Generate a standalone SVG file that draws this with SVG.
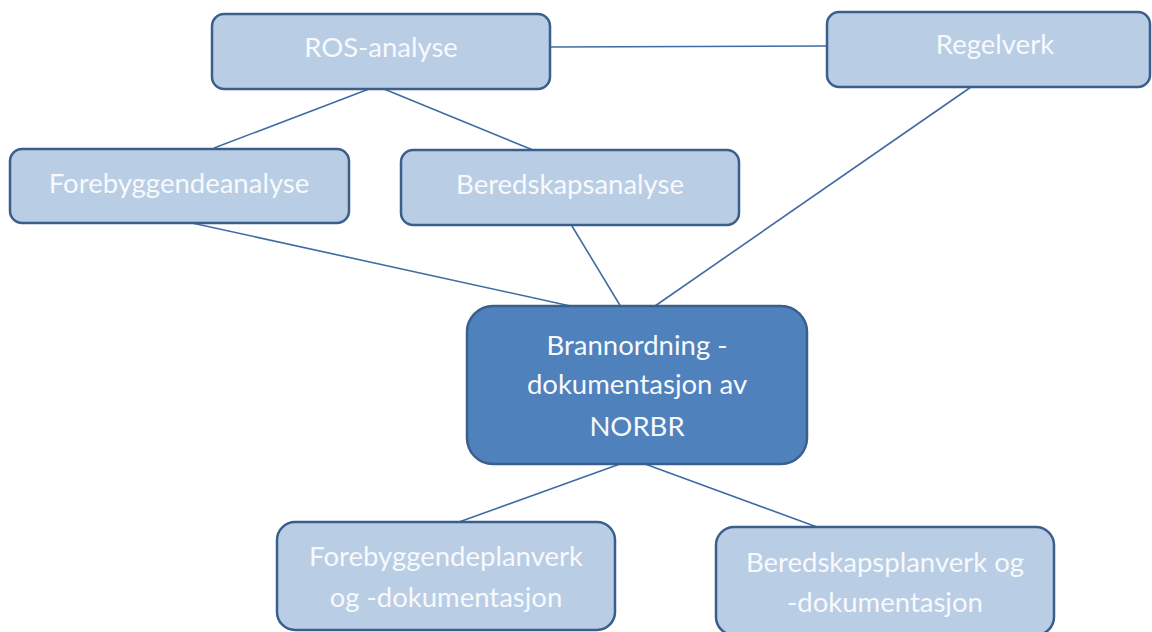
<svg xmlns="http://www.w3.org/2000/svg" width="1152" height="632" viewBox="0 0 1152 632">
<style>
.box{fill:#b9cde5;stroke:#3b5f8d;stroke-width:2.5}
.main{fill:#4f81bd;stroke:#3b5f8d;stroke-width:2.5}
.t{font-family:Lato,"Open Sans","Liberation Sans",sans-serif;font-size:27.5px;fill:#f7f9fc;text-anchor:middle}
.c line{stroke:#3f6ca3;stroke-width:1.6}
</style>
<rect width="1152" height="632" fill="#ffffff"/>
<g class="c" id="connectors">
<line x1="550" y1="47" x2="827" y2="46"/>
<line x1="369" y1="89" x2="214" y2="148"/>
<line x1="384" y1="89" x2="533" y2="150"/>
<line x1="971" y1="87" x2="655" y2="306"/>
<line x1="192" y1="223" x2="575" y2="307"/>
<line x1="572" y1="226" x2="621" y2="307"/>
<line x1="620" y1="464" x2="459" y2="522"/>
<line x1="645" y1="464" x2="817" y2="527"/>
</g>
<g id="ros">
<rect class="box" x="212" y="14" width="338" height="75" rx="12"/>
<text class="t" x="381" y="57">ROS-analyse</text>
</g>
<g id="regelverk">
<rect class="box" x="827" y="12" width="323" height="75" rx="12"/>
<text class="t" x="995" y="54">Regelverk</text>
</g>
<g id="forebyggendeanalyse">
<rect class="box" x="10" y="149" width="339" height="74" rx="12"/>
<text class="t" x="179" y="193">Forebyggendeanalyse</text>
</g>
<g id="beredskapsanalyse">
<rect class="box" x="401" y="150" width="338" height="75" rx="12"/>
<text class="t" x="570" y="194">Beredskapsanalyse</text>
</g>
<g id="brannordning">
<rect class="main" x="467" y="306" width="340" height="158" rx="26"/>
<text class="t" x="637" y="355">Brannordning -</text>
<text class="t" x="637" y="394">dokumentasjon av</text>
<text class="t" x="637" y="436">NORBR</text>
</g>
<g id="forebyggendeplanverk">
<rect class="box" x="277" y="522" width="338" height="108" rx="18"/>
<text class="t" x="446" y="566">Forebyggendeplanverk</text>
<text class="t" x="446" y="607">og -dokumentasjon</text>
</g>
<g id="beredskapsplanverk">
<rect class="box" x="716" y="527" width="338" height="108" rx="18"/>
<text class="t" x="885" y="572">Beredskapsplanverk og</text>
<text class="t" x="885" y="612">-dokumentasjon</text>
</g>
</svg>
